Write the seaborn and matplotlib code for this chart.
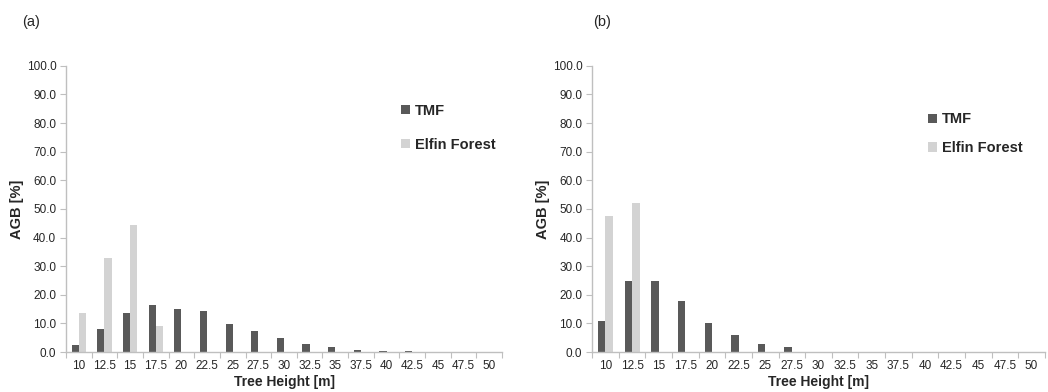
import numpy as np
import pandas as pd
import matplotlib
matplotlib.use("Agg")
import matplotlib.pyplot as plt
import seaborn as sns

heights = ["10", "12.5", "15", "17.5", "20", "22.5", "25", "27.5", "30",
           "32.5", "35", "37.5", "40", "42.5", "45", "47.5", "50"]
series = ["TMF", "Elfin Forest"]

tmf_a = [2.4, 8.2, 13.8, 16.5, 15.2, 14.4, 9.8, 7.3, 4.8, 2.8, 1.6, 0.8, 0.4, 0.2, 0.0, 0.0, 0.0]
elfin_a = [13.5, 32.8, 44.5, 9.0, 0, 0, 0, 0, 0, 0, 0, 0, 0, 0, 0, 0, 0]
tmf_b = [11.0, 24.8, 24.8, 17.8, 10.3, 5.9, 2.7, 1.8, 0, 0, 0, 0, 0, 0, 0, 0, 0]
elfin_b = [47.6, 52.2, 0, 0, 0, 0, 0, 0, 0, 0, 0, 0, 0, 0, 0, 0, 0]

yticks = [0, 10, 20, 30, 40, 50, 60, 70, 80, 90, 100]
panel_labels = ["(a)", "(b)"]

sns.set_theme(style="white")
plt.rcParams["font.family"] = ["Liberation Sans", "DejaVu Sans"]

colors = {"TMF": "#595959", "Elfin Forest": "#d3d3d3"}

fig = plt.figure(figsize=(10.48, 3.92), dpi=100)
axes = [fig.add_axes([0.063, 0.102, 0.416, 0.730]),
        fig.add_axes([0.565, 0.102, 0.432, 0.730])]
legend_pos = [(0.738, 0.913), (0.714, 0.883)]
legend_spacing = [1.35, 1.0]
panel_xy = [(0.021, 0.945), (0.566, 0.945)]

for i, (ax, tmf, elf) in enumerate(zip(axes, [tmf_a, tmf_b], [elfin_a, elfin_b])):
    df = pd.DataFrame({
        "Height": heights * 2,
        "AGB": list(tmf) + list(elf),
        "Series": ["TMF"] * len(heights) + ["Elfin Forest"] * len(heights),
    })
    sns.barplot(data=df, x="Height", y="AGB", hue="Series", order=heights,
                hue_order=series, palette=colors, width=0.56, ax=ax,
                saturation=1, edgecolor="none", linewidth=0)
    ax.set_xlim(-0.5, len(heights) - 0.5)
    ax.set_ylim(0, 100)
    ax.set_yticks(yticks)
    ax.set_yticklabels([f"{v:.1f}" for v in yticks], fontsize=8.5)
    ax.set_xticks(range(len(heights)))
    ax.set_xticklabels(heights, fontsize=8.5)
    ax.set_xticks(np.arange(-0.5, len(heights), 1.0), minor=True)
    ax.tick_params(axis="x", which="major", length=0, pad=6)
    ax.tick_params(axis="x", which="minor", length=4, color="#bfbfbf", width=0.8, direction="out", bottom=True)
    ax.tick_params(axis="y", length=4, color="#bfbfbf", width=0.8, direction="out", left=True, pad=3)
    for s in ["top", "right"]:
        ax.spines[s].set_visible(False)
    for s in ["left", "bottom"]:
        ax.spines[s].set_color("#bfbfbf")
        ax.spines[s].set_linewidth(1.0)
    ax.set_xlabel("Tree Height [m]", fontsize=10, fontweight="bold", labelpad=2)
    ax.set_ylabel("AGB [%]", fontsize=10.5, fontweight="bold", labelpad=2)
    ax.grid(False)
    ax.legend(loc="upper left", bbox_to_anchor=legend_pos[i], frameon=False,
              prop={"weight": "bold", "size": 10.5}, handlelength=0.6,
              handleheight=0.6, handletextpad=0.35, labelspacing=legend_spacing[i])
    fig.text(panel_xy[i][0], panel_xy[i][1], panel_labels[i], fontsize=10.5,
             ha="left", va="center")

fig.savefig("out.png", dpi=100)
